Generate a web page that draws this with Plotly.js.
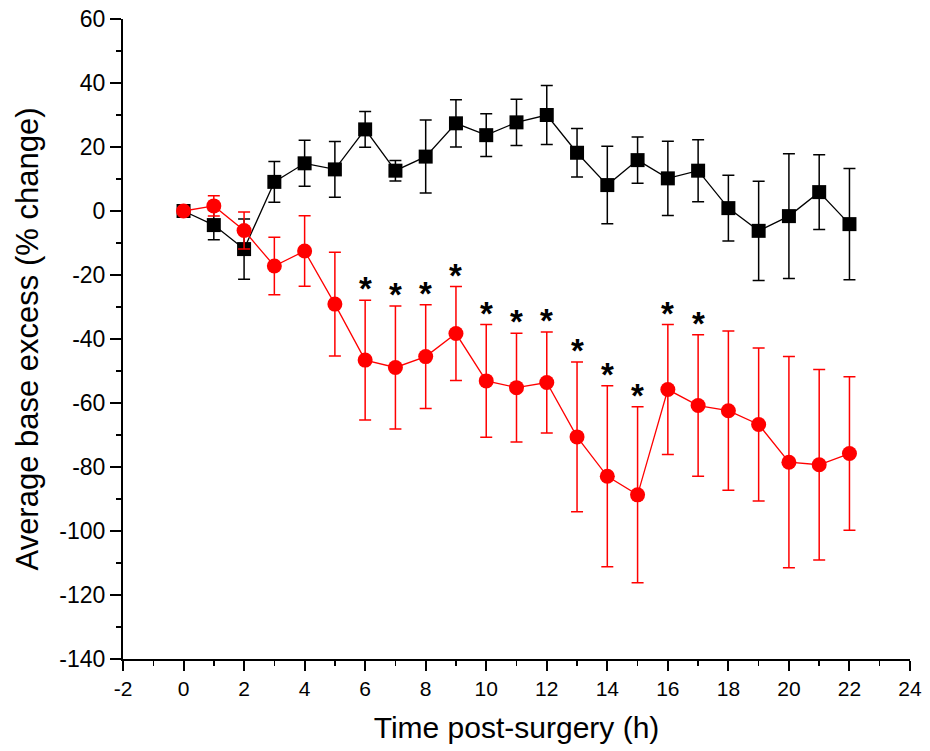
<!DOCTYPE html>
<html>
<head>
<meta charset="utf-8">
<script src="https://cdn.plot.ly/plotly-3.0.1.min.js"></script>
<style>html,body{margin:0;padding:0;background:#fff;}#chart{width:930px;height:751px;}</style>
</head>
<body>
<div id="chart"></div>
<script>
const timeHours = [0,1,2,3,4,5,6,7,8,9,10,11,12,13,14,15,16,17,18,19,20,21,22];
const blackMean = [0,-4.4,-11.9,9.1,14.9,13.0,25.5,12.6,17.0,27.4,23.7,27.7,30.0,18.2,8.1,15.9,10.2,12.6,0.9,-6.2,-1.6,5.9,-4.1];
const blackErr  = [0,4.6,9.4,6.4,7.2,8.7,5.6,3.2,11.4,7.4,6.7,7.2,9.2,7.6,12.1,7.2,11.6,9.7,10.3,15.5,19.5,11.7,17.4];
const redMean   = [0,1.6,-6.1,-17.2,-12.5,-29.1,-46.6,-48.9,-45.5,-38.3,-53.1,-55.2,-53.6,-70.6,-82.9,-88.7,-55.8,-60.8,-62.4,-66.7,-78.5,-79.3,-75.8];
const redErr    = [0,3.2,5.8,9.0,11.0,16.2,18.7,19.2,16.2,14.7,17.6,17.0,15.8,23.4,28.3,27.5,20.3,22.1,24.9,23.9,33.0,29.8,24.0];
const significantHours = [6,7,8,9,10,11,12,13,14,15,16,17];
const xTickVals = [-2,0,2,4,6,8,10,12,14,16,18,20,22,24];
const yTickVals = [60,40,20,0,-20,-40,-60,-80,-100,-120,-140];

const blackTrace = {
  x: timeHours, y: blackMean, type: 'scatter', mode: 'lines+markers',
  line: {color: '#000000', width: 1.3},
  marker: {symbol: 'square', size: 14, color: '#000000'},
  error_y: {type: 'data', array: blackErr, visible: true, color: '#000000', thickness: 1.5, width: 6},
  showlegend: false, cliponaxis: false
};
const redTrace = {
  x: timeHours, y: redMean, type: 'scatter', mode: 'lines+markers',
  line: {color: '#ff0000', width: 1.3},
  marker: {symbol: 'circle', size: 15, color: '#ff0000'},
  error_y: {type: 'data', array: redErr, visible: true, color: '#ff0000', thickness: 1.5, width: 6},
  showlegend: false, cliponaxis: false
};

const annotations = significantHours.map(function(h){
  const i = timeHours.indexOf(h);
  return {
    x: h, y: redMean[i] + redErr[i], xref: 'x', yref: 'y',
    text: '<b>*</b>', showarrow: false, yanchor: 'bottom', yshift: -9,
    font: {family: 'Liberation Sans, Arial, sans-serif', size: 33, color: '#000000'}
  };
});

const fam = 'Liberation Sans, Arial, sans-serif';
const layout = {
  width: 930, height: 751,
  margin: {l: 123, r: 20, t: 19, b: 92},
  paper_bgcolor: '#ffffff', plot_bgcolor: '#ffffff',
  xaxis: {
    range: [-2, 24], tickvals: xTickVals, ticktext: xTickVals.map(String),
    showgrid: false, zeroline: false, showline: true, linecolor: '#000000', linewidth: 2,
    ticks: 'outside', ticklen: 10, tickwidth: 2, tickcolor: '#000000',
    minor: {dtick: 1, tick0: 0, ticks: 'outside', ticklen: 5, tickwidth: 1.5, tickcolor: '#000000', showgrid: false},
    tickfont: {family: fam, size: 21, color: '#000000'},
    title: {text: 'Time post-surgery (h)', standoff: 18,
      font: {family: fam, size: 30, color: '#000000'}}
  },
  yaxis: {
    range: [-140, 60], tickvals: yTickVals, ticktext: yTickVals.map(String),
    showgrid: false, zeroline: false, showline: true, linecolor: '#000000', linewidth: 2,
    ticks: 'outside', ticklen: 11, tickwidth: 2, tickcolor: '#000000',
    minor: {dtick: 10, tick0: 0, ticks: 'outside', ticklen: 5, tickwidth: 1.5, tickcolor: '#000000', showgrid: false},
    tickfont: {family: fam, size: 23, color: '#000000'},
    title: {text: 'Average base excess (% change)', standoff: 12,
      font: {family: fam, size: 31, color: '#000000'}}
  },
  annotations: annotations
};

Plotly.newPlot('chart', [blackTrace, redTrace], layout, {displayModeBar: false, staticPlot: true});
</script>
</body>
</html>
